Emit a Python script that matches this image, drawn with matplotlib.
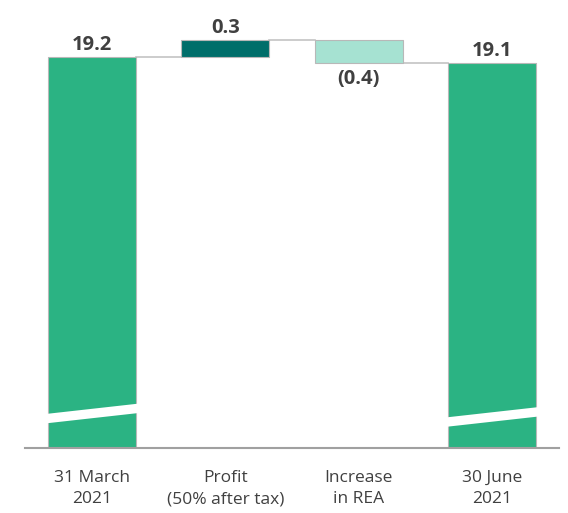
import numpy as np
import matplotlib.pyplot as plt
from matplotlib.patches import Polygon
import matplotlib.transforms as mtransforms

plt.rcParams['font.family'] = ['Open Sans', 'DejaVu Sans']

# Data
categories = ["31 March\n2021", "Profit\n(50% after tax)", "Increase\nin REA", "30 June\n2021"]
start_value = 19.2
changes = [0.3, -0.4]
end_value = 19.1
labels = ["19.2", "0.3", "(0.4)", "19.1"]

colors = ["#2bb383", "#006e6a", "#a6e2d2", "#2bb383"]
axis_floor = 12.3  # broken axis: bars start here visually

# Build waterfall bottoms/heights
bottoms = [axis_floor]
heights = [start_value - axis_floor]
level = start_value
for ch in changes:
    bottoms.append(min(level, level + ch))
    heights.append(abs(ch))
    level += ch
bottoms.append(axis_floor)
heights.append(end_value - axis_floor)
tops = [b + h for b, h in zip(bottoms, heights)]
levels = [start_value, start_value + changes[0], start_value + sum(changes), end_value]

fig = plt.figure(figsize=(5.68, 5.13), dpi=100)
ax = fig.add_axes([25 / 568, 65 / 513, 534 / 568, 428 / 513])

x = np.arange(len(categories))
width = 0.66
ax.bar(x, heights, bottom=bottoms, width=width, color=colors,
       edgecolor="#b8b8b8", linewidth=0.8, zorder=2)

# connectors
for i in range(len(x) - 1):
    ax.plot([x[i] + width / 2, x[i + 1] - width / 2], [levels[i], levels[i]],
            color="#c4c4c4", lw=1.2, zorder=1)

ax.set_xlim(-0.5, 3.5)
ax.set_ylim(axis_floor, 19.85)

# break marks on the full bars
trans = mtransforms.blended_transform_factory(ax.transData, ax.transAxes)
for i, (yl, yr) in zip([0, 3], [(0.069, 0.092), (0.061, 0.084)]):
    xl, xr = x[i] - 0.4, x[i] + 0.4
    band = 0.022
    k = (yr - yl) / width
    y0 = yl - k * 0.07
    y1 = yr + k * 0.07
    poly = Polygon([[xl, y0 - band / 2], [xr, y1 - band / 2],
                    [xr, y1 + band / 2], [xl, y0 + band / 2]],
                   closed=True, facecolor="white", edgecolor="none",
                   transform=trans, zorder=3)
    ax.add_patch(poly)

# value labels
for i in range(len(x)):
    if i == 2:
        ax.annotate(labels[i], (x[i], bottoms[i]), xytext=(0, -5), textcoords="offset points",
                    ha="center", va="top", fontsize=14.5, fontweight="bold", color="#404040")
    else:
        ax.annotate(labels[i], (x[i], tops[i]), xytext=(0, 1), textcoords="offset points",
                    ha="center", va="bottom", fontsize=14.5, fontweight="bold", color="#404040")

ax.set_xticks(x)
ax.set_xticklabels(categories, fontsize=12.5, color="#404040", linespacing=1.4)
ax.tick_params(axis="x", length=0, pad=16)
ax.set_yticks([])
for s in ["top", "right", "left"]:
    ax.spines[s].set_visible(False)
ax.spines["bottom"].set_color("#a0a0a0")
ax.spines["bottom"].set_linewidth(1.5)
ax.spines["bottom"].set_zorder(4)

fig.savefig("out.png", dpi=100)
